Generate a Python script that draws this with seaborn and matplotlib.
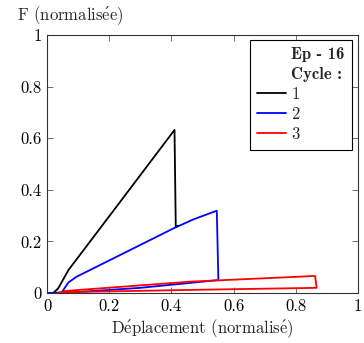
import matplotlib
matplotlib.use("Agg")
import matplotlib.pyplot as plt
import seaborn as sns
import pandas as pd
from matplotlib.lines import Line2D

# Cycle 1 (black)
c1_x = [0.0, 0.02, 0.036, 0.069, 0.24, 0.41, 0.414, 0.42]
c1_y = [0.0, 0.0, 0.018, 0.089, 0.361, 0.632, 0.257, 0.26]
# Cycle 2 (blue)
c2_x = [0.0, 0.047, 0.069, 0.095, 0.406, 0.47, 0.546, 0.551, 0.3, 0.1, 0.05]
c2_y = [0.0, 0.002, 0.041, 0.063, 0.25, 0.285, 0.319, 0.05, 0.02, 0.004, 0.0]
# Cycle 3 (red)
c3_x = [0.035, 0.06, 0.46, 0.862, 0.867, 0.46, 0.1, 0.04]
c3_y = [0.0, 0.008, 0.044, 0.066, 0.02, 0.012, 0.004, 0.0]

cycles = ["1", "2", "3"]
colors = ["black", "blue", "red"]
ticks = [0, 0.2, 0.4, 0.6, 0.8, 1]
tick_labels = ["0", "0.2", "0.4", "0.6", "0.8", "1"]

sns.set_style("ticks")
plt.rcParams["font.family"] = ["cmr10", "DejaVu Serif"]
plt.rcParams["mathtext.fontset"] = "cm"
plt.rcParams["axes.formatter.use_mathtext"] = True
plt.rcParams["font.size"] = 12

E = r"$\acute{\mathrm{e}}$"

frames = []
for name, xs, ys in zip(cycles, [c1_x, c2_x, c3_x], [c1_y, c2_y, c3_y]):
    frames.append(pd.DataFrame({"x": xs, "y": ys, "cycle": name,
                                "order": range(len(xs))}))

fig = plt.figure(figsize=(3.64, 3.43), dpi=100)
ax = fig.add_axes([47 / 364, 50 / 343, 311 / 364, 258 / 343])

for df, col in zip(frames, colors):
    sns.lineplot(data=df, x="x", y="y", sort=False, estimator=None,
                 color=col, lw=1.3, ax=ax)

ax.set_xlim(0, 1)
ax.set_ylim(0, 1)
ax.set_xticks(ticks)
ax.set_xticklabels(tick_labels)
ax.set_yticks(ticks)
ax.set_yticklabels(tick_labels)
ax.tick_params(direction="in", length=4, width=0.6, top=True, right=True,
               colors="#555555", labelcolor="black", labelsize=12, pad=4)
for s in ax.spines.values():
    s.set_linewidth(0.8)
    s.set_color("#333333")

ax.set_xlabel("D" + E + "placement (normalis" + E + ")", fontsize=12)
ax.xaxis.set_label_coords(0.5, -0.14)
ax.xaxis.label.set_va("center")
ax.set_ylabel("F (normalis" + E + "e)", rotation=0, ha="left", va="center",
              fontsize=12)
ax.yaxis.set_label_coords(-0.096, 1.074)

handles = [Line2D([], [], color="none"), Line2D([], [], color="none")]
handles += [Line2D([], [], color=c, lw=1.3) for c in colors]
labels = ["Ep - 16", "Cycle :"] + cycles
leg = ax.legend(handles, labels, loc="upper right",
                bbox_to_anchor=(0.981, 0.981), borderaxespad=0,
                fancybox=False, framealpha=1, edgecolor="black",
                handlelength=1.75, handletextpad=0.3, labelspacing=0.28,
                borderpad=0.45, fontsize=12)
leg.get_frame().set_linewidth(0.8)
for t in leg.get_texts()[:2]:
    t.set_fontfamily(["cmb10", "DejaVu Serif"])

fig.savefig("out.png", dpi=100)
